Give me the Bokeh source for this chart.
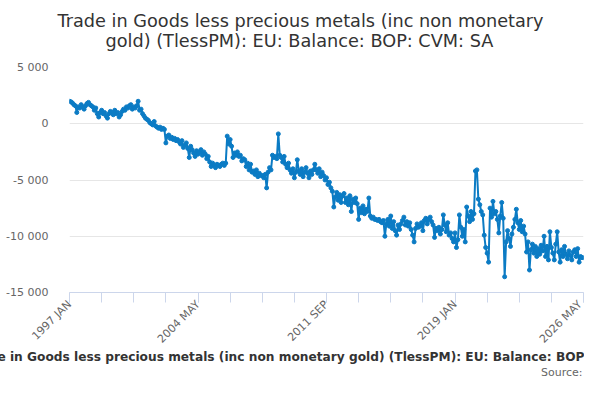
import math

from bokeh.embed import file_html
from bokeh.models import FixedTicker, Title
from bokeh.plotting import figure
from bokeh.resources import INLINE

# monthly balance, £ million
y1997 = [2000, 1950, 1850, 1700, 1600, 1000, 1500, 1400, 1700, 1500, 1300, 1600]
y1998 = [1800, 1900, 1700, 1600, 1500, 1200, 1400, 900, 600, 1000, 1200, 900]
y1999 = [1000, 700, 500, 900, 1100, 1000, 800, 1200, 900, 1000, 600, 800]
y2000 = [1100, 1300, 1200, 1500, 1400, 1600, 1700, 1300, 1500, 1400, 1600, 2000]
y2001 = [1200, 1300, 900, 700, 500, 400, 300, 100, 0, -100, 200, -200]
y2002 = [-300, -400, -300, -500, -400, -500, -1700, -1100, -1000, -1300, -1200, -1400]
y2003 = [-1300, -1500, -1400, -1600, -1800, -1500, -2100, -1900, -1700, -2200, -3000, -2000]
y2004 = [-2300, -2600, -2900, -2400, -2700, -2500, -2300, -2800, -2500, -2700, -3100, -2900]
y2005 = [-3400, -3800, -3500, -3700, -3900, -3600, -3700, -3800, -3600, -3500, -3700, -3500]
y2006 = [-1100, -1800, -1400, -2000, -3000, -2600, -2800, -2500, -2900, -2800, -3300, -3100]
y2007 = [-3200, -3800, -3500, -4100, -3600, -4300, -4200, -4500, -4100, -4700, -4400, -4600]
y2008 = [-4600, -4800, -4500, -5700, -4300, -3900, -4100, -2800, -3000, -2900, -3100, -900]
y2009 = [-2800, -3000, -3400, -2900, -3600, -3900, -3500, -4100, -4400, -4000, -4800, -4300]
y2010 = [-3200, -4200, -4500, -4000, -4700, -4300, -3900, -4400, -4800, -4200, -4500, -4100]
y2011 = [-3600, -4100, -4400, -4000, -4700, -4300, -4600, -5000, -4800, -5400, -5200, -5700]
y2012 = [-6000, -7400, -6500, -6100, -6800, -6300, -7000, -6400, -6200, -7000, -6600, -7200]
y2013 = [-6400, -7800, -6700, -7000, -6600, -7100, -8500, -7500, -7900, -7300, -8000, -7600]
y2014 = [-7800, -6600, -8200, -8400, -8300, -8500, -8500, -8600, -8500, -8700, -8800, -8600]
y2015 = [-10000, -8900, -8500, -9100, -8200, -9300, -8700, -9500, -9900, -9000, -9400, -8900]
y2016 = [-8600, -8300, -9000, -8700, -9100, -8800, -9400, -9900, -10500, -9300, -8900, -9200]
y2017 = [-9100, -8800, -9500, -8600, -8400, -8900, -8500, -8300, -8700, -9000, -10100, -9300]
y2018 = [-9500, -9200, -9800, -9400, -8100, -9000, -9600, -8800, -9900, -9700, -10200, -10500]
y2019 = [-9700, -11000, -10300, -8100, -9200, -10000, -9400, -10500, -7400, -8200, -8700, -7800]
y2020 = [-8500, -8000, -4200, -4100, -6700, -7200, -7800, -8100, -9900, -11000, -11500, -12300]
y2021 = [-7500, -8300, -6900, -8000, -7800, -8500, -9700, -8200, -7000, -8400, -13600, -10500]
y2022 = [-9500, -10200, -10900, -9800, -9200, -8500, -7600, -8800, -9400, -8600, -9600, -9100]
y2023 = [-9800, -11400, -10500, -13000, -11200, -10700, -11500, -10900, -11800, -11100, -11600, -10800]
y2024 = [-11300, -10000, -11800, -10900, -12100, -9600, -11000, -11500, -12100, -10700, -9600, -11400]
y2025 = [-12300, -11200, -11800, -10900, -11600, -12000, -11300, -11700, -12100, -11400, -11200, -11800]
y2026 = [-11100, -12300, -11800, -11900, -11900]

values = (y1997 + y1998 + y1999 + y2000 + y2001 + y2002 + y2003 + y2004 + y2005
          + y2006 + y2007 + y2008 + y2009 + y2010 + y2011 + y2012 + y2013 + y2014
          + y2015 + y2016 + y2017 + y2018 + y2019 + y2020 + y2021 + y2022 + y2023
          + y2024 + y2025 + y2026)
months = list(range(len(values)))

tick_labels = ["1997 JAN", "2004 MAY", "2011 SEP", "2019 JAN", "2026 MAY"]
y_ticks = [-15000, -10000, -5000, 0, 5000]

title_text = "Trade in Goods less precious metals (inc non monetary gold) (TlessPM): EU: Balance: BOP: CVM: SA"
title_lines = ["Trade in Goods less precious metals (inc non monetary",
               "gold) (TlessPM): EU: Balance: BOP: CVM: SA"]
FONT = "DejaVu Sans"
BLUE = "#0b7bc4"
AXIS = "#ccd6eb"

last = len(values) - 1
step = last // 16
major = [i * last // (len(tick_labels) - 1) for i in range(len(tick_labels))]
minor = list(range(0, last + 1, step))

p = figure(frame_width=514, frame_height=225, output_backend="svg",
           toolbar_location=None, title=None,
           x_range=(0, last), y_range=(y_ticks[0], y_ticks[-1]),
           min_border_left=69, min_border_right=1, min_border_top=67,
           min_border_bottom=92)
p.outline_line_color = None
p.background_fill_color = "white"

p.line(months, values, line_color=BLUE, line_width=2)
p.scatter(months, values, size=4, color=BLUE)

# x axis: month ticks every 22 months, labelled every 88
xa = p.xaxis[0]
xa.ticker = FixedTicker(ticks=major, minor_ticks=minor)
xa.major_label_overrides = {m: lab for m, lab in zip(major, tick_labels)}
xa.major_label_orientation = math.pi / 4
xa.axis_line_color = AXIS
xa.major_tick_line_color = AXIS
xa.minor_tick_line_color = AXIS
xa.major_tick_in = 0
xa.major_tick_out = 10
xa.minor_tick_in = 0
xa.minor_tick_out = 10
xa.major_label_standoff = 0
xa.major_label_text_font = FONT
xa.major_label_text_font_size = "11px"
xa.major_label_text_color = "#666666"

ya = p.yaxis[0]
ya.ticker = FixedTicker(ticks=y_ticks)
ya.major_label_overrides = {v: f"{v:,}".replace(",", " ") for v in y_ticks}
ya.axis_line_color = None
ya.major_tick_line_color = None
ya.minor_tick_line_color = None
ya.major_label_standoff = 15
ya.major_label_text_font = FONT
ya.major_label_text_font_size = "11px"
ya.major_label_text_color = "#666666"

p.xgrid.visible = False
p.ygrid.grid_line_color = "#e6e6e6"

# above: an empty spacer next to the frame, then the two title lines
p.add_layout(Title(text=" ", text_font_size="2px", standoff=15), "above")
p.add_layout(Title(text=title_lines[1], align="left", offset=36, standoff=-4,
                   text_font=FONT, text_font_size="17.7px",
                   text_font_style="normal", text_color="#333333"), "above")
p.add_layout(Title(text=title_lines[0], align="left", offset=-12, standoff=0,
                   text_font=FONT, text_font_size="17.7px",
                   text_font_style="normal", text_color="#333333"), "above")

# below the axis: caption and source
p.add_layout(Title(text=title_text, align="left", offset=-102, standoff=-12,
                   text_font=FONT, text_font_size="12.2px", text_font_style="bold",
                   text_color="#333333"), "below")
p.add_layout(Title(text="Source:", align="right", offset=1, standoff=13,
                   text_font=FONT, text_font_size="11px", text_font_style="normal",
                   text_color="#666666"), "below")

open("out.html", "w").write(file_html(p, INLINE))
